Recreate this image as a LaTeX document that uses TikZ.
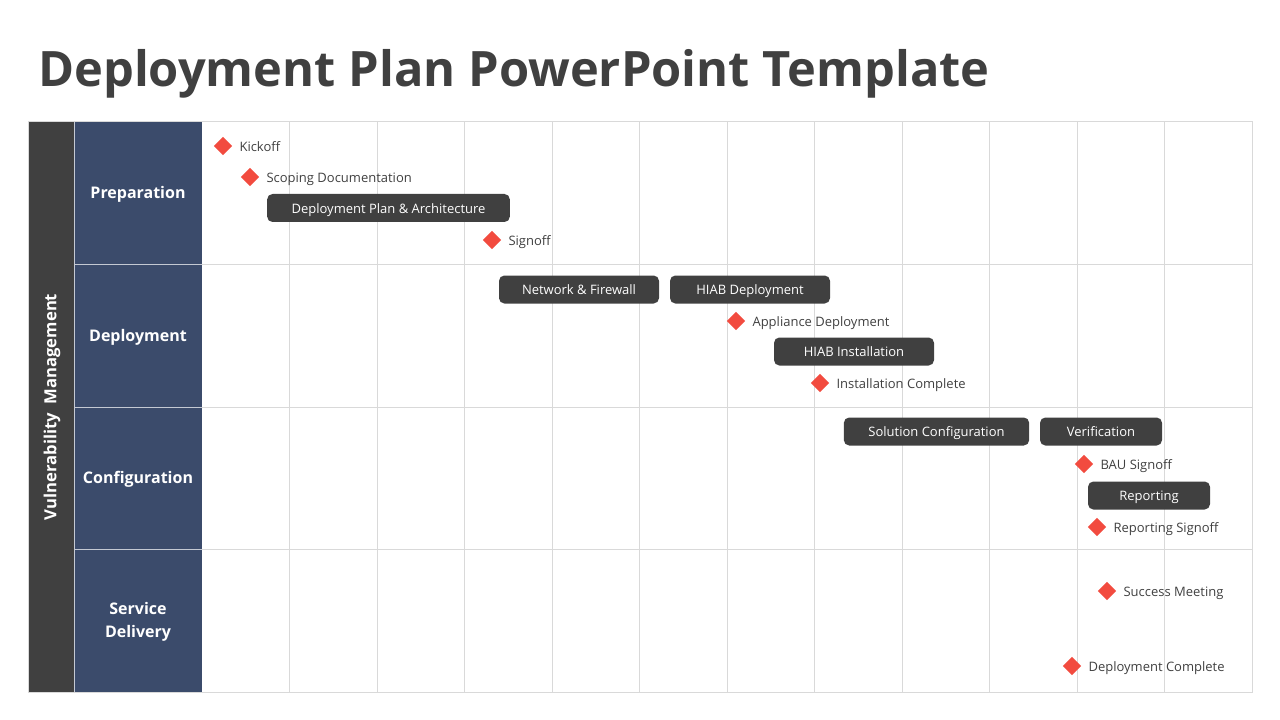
\documentclass[tikz,border=0pt]{standalone}
\usepackage{fontspec}
\setmainfont{Open Sans}
\usepackage{tikz}
\usetikzlibrary{positioning, shapes.geometric}
\definecolor{darkgr}{HTML}{404040}
\definecolor{rowblue}{HTML}{3B4B6B}
\definecolor{msred}{HTML}{F24B3F}
\definecolor{gridgr}{HTML}{D9D9D9}
\tikzset{
  gridline/.style = {gridgr, line width=0.75pt},
  rowlbl/.style   = {font=\bfseries\fontsize{12}{17}\selectfont, text=white, align=center},
  task/.style     = {fill=darkgr, rounded corners=4pt, text=white, minimum height=21pt,
                     inner sep=0pt, text height=8.4pt, text depth=0.6pt,
                     font=\fontsize{9.75}{11}\selectfont},
  mstone/.style   = {diamond, fill=msred, minimum width=14pt, minimum height=14pt, inner sep=0pt},
  mlbl/.style     = {text=darkgr, inner sep=1pt, text height=8.4pt, text depth=0.6pt,
                     font=\fontsize{9.75}{11}\selectfont},
}
\newcommand{\milestone}[4]{%
  \node[mstone] (#1) at (#2,#3) {};
  \node[mlbl, right=4pt of #1] (#1-l) {#4};
}

\begin{document}
\begin{tikzpicture}[x=0.75pt, y=-0.75pt]
  \useasboundingbox (0,0) rectangle (1280,720);
  % title
  \node[anchor=base west, inner sep=0pt, text=darkgr,
        font=\bfseries\fontsize{36.6}{40}\selectfont] (title) at (38,87) {Deployment Plan PowerPoint Template};
  % side bars
  \fill[darkgr] (28,122) rectangle (74,692);
  \fill[rowblue] (74,122) rectangle (202,692);
  % grid
  \foreach \i in {1,...,11}
    \draw[gridline] ({202+87.5*\i},122) -- ({202+87.5*\i},692);
  \foreach \j in {1,2,3}
    \draw[gridline] (202,{122+142.5*\j}) -- (1252,{122+142.5*\j});
  \foreach \j in {1,2,3}
    \draw[white!70!rowblue, line width=0.75pt] (74,{122+142.5*\j}) -- (202,{122+142.5*\j});
  \draw[gridline] (28,122) rectangle (1252,692);
  \draw[white!70!rowblue, line width=0.75pt] (74,122) -- (74,692);
  % row labels
  \node[rotate=90, font=\bfseries\fontsize{12.5}{14}\selectfont, text=white] (vm) at (52,407) {Vulnerability\ \ Management};
  \node[rowlbl] (prep) at (138,194) {Preparation};
  \node[rowlbl] (depl) at (138,337) {Deployment};
  \node[rowlbl] (conf) at (138,479) {Configuration};
  \node[rowlbl] (serv) at (138,622) {Service\\Delivery};
  % tasks
  \node[task, minimum width=182pt] (planarch) at (388.5,208) {Deployment Plan \& Architecture};
  \node[task, minimum width=120pt] (netfw) at (579,289.5) {Network \& Firewall};
  \node[task, minimum width=120pt] (hiabdep) at (750,289.5) {HIAB Deployment};
  \node[task, minimum width=120pt] (hiabinst) at (854,351.5) {HIAB Installation};
  \node[task, minimum width=139pt] (solconf) at (936.5,431.5) {Solution Configuration};
  \node[task, minimum width=91.5pt] (verif) at (1101,431.5) {Verification};
  \node[task, minimum width=91.5pt] (report) at (1149,495.5) {Reporting};
  % milestones
  \milestone{kick}{223}{146}{Kickoff}
  \milestone{scope}{250}{177}{Scoping Documentation}
  \milestone{signoff}{492}{240}{Signoff}
  \milestone{appl}{736}{321}{Appliance Deployment}
  \milestone{instc}{820}{383}{Installation Complete}
  \milestone{bau}{1084}{464}{BAU Signoff}
  \milestone{repsign}{1097}{527}{Reporting Signoff}
  \milestone{succ}{1107}{591}{Success Meeting}
  \milestone{depc}{1072}{666}{Deployment Complete}
\end{tikzpicture}
\end{document}
